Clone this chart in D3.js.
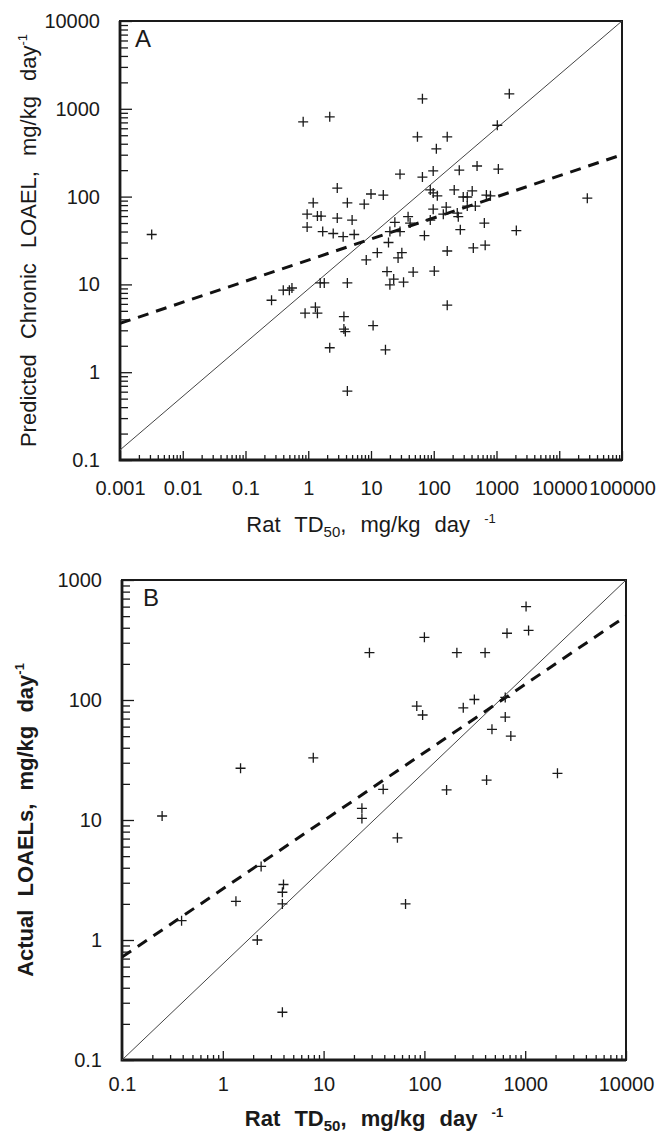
<!DOCTYPE html>
<html>
<head>
<meta charset="utf-8">
<script src="https://cdn.jsdelivr.net/npm/d3@7"></script>
<style>
  body { margin: 0; background: #fff; }
  text { font-family: Arial, "Liberation Sans", sans-serif; fill: #1a1a1a; }
  .frame { fill: none; stroke: #1a1a1a; stroke-width: 2; }
  .axis path { display: none; }
  .axis line { stroke: #1a1a1a; stroke-width: 1.3; }
  .axis text { font-size: 20px; fill: #1a1a1a; }
  .mark { stroke: #1a1a1a; stroke-width: 1.3; }
</style>
</head>
<body>
<svg id="fig" width="659" height="1137"></svg>
<script>
// panel A: rat TD50 vs predicted chronic LOAEL
const pointsA = [
  [0.0032,37],[0.83,710],[2.2,810],[2.9,125],[1.2,85],[4.2,85],[10,107],[15.7,104],[7.8,82],
  [0.96,63],[1.4,60],[1.6,60],[2.9,57],[5.0,54],[0.96,45],[1.7,40],[2.5,38],[3.6,35],[5.4,37],
  [24,51],[19,30],[12.6,23],[8.4,19],[27,20],[31,23],[18,14],[23,11.5],[20,9.9],[33,10.6],
  [0.40,8.6],[0.50,8.6],[0.55,9.1],[0.26,6.6],[1.55,10.4],[1.8,10.4],[4.2,10.4],[0.89,4.7],
  [1.3,5.5],[1.4,4.7],[3.7,4.3],[3.7,3.1],[3.9,2.9],[10.8,3.4],[2.2,1.9],[17,1.8],
  [66,1300],[1600,1480],[1030,650],[55,480],[164,480],[110,350],[29,180],[66,167],[98,196],
  [255,200],[490,223],[1070,206],[88,119],[98,110],[114,102],[212,119],[410,116],[295,99],
  [342,99],[690,104],[800,102],[28000,96],[98,72],[158,76],[88,54],[142,63],[342,78],[460,78],
  [237,65],[246,59],[39,59],[42,50],[20,40],[29,40],[71,36],[265,42],[640,50],[2070,41],
  [164,24],[427,26],[660,28],[47,13.8],[102,14.2],[164,5.8],[4.2,0.61]
];
const solidA = [[0.001,0.13],[100000,10000]];
const dashA = [[0.001,3.6],[100000,300]];
const xTicksA = [0.001,0.01,0.1,1,10,100,1000,10000,100000];
const yTicksA = [0.1,1,10,100,1000,10000];

// panel B: rat TD50 vs actual LOAELs
const pointsB = [
  [28.5,248],[0.25,10.8],[1.5,27],[7.9,33],[39,18],[24,12.5],[24,10.3],[2.4,4.1],[4.0,2.9],
  [3.9,2.5],[3.9,2.0],[1.35,2.1],[0.39,1.45],[2.2,1.0],[3.9,0.25],[1020,600],[1080,380],
  [660,360],[100,333],[210,248],[400,248],[313,101],[634,105],[84,89],[96,75],[243,86],
  [634,72],[468,57],[720,50],[2090,24.5],[414,21.5],[166,17.8],[54,7.1],[65,2.0]
];
const solidB = [[0.1,0.1],[10000,1000]];
const dashB = [[0.1,0.72],[10000,500]];
const xTicksB = [0.1,1,10,100,1000,10000];
const yTicksB = [0.1,1,10,100,1000];

const svg = d3.select("#fig");
const fmt = d => String(d);

function minors(majors) {
  const out = [];
  majors.slice(0, -1).forEach(m => { for (let k = 2; k <= 9; k++) out.push(m * k); });
  return out;
}

function panel(cfg) {
  const x = d3.scaleLog().domain(d3.extent(cfg.xTicks)).range([cfg.left, cfg.right]);
  const y = d3.scaleLog().domain(d3.extent(cfg.yTicks)).range([cfg.bottom, cfg.top]);
  const g = svg.append("g");

  const clipId = "clip" + cfg.name;
  svg.append("clipPath").attr("id", clipId)
    .append("rect").attr("x", cfg.left).attr("y", cfg.top)
    .attr("width", cfg.right - cfg.left).attr("height", cfg.bottom - cfg.top);

  // minor ticks
  g.append("g").attr("class", "axis").attr("transform", `translate(0,${cfg.bottom})`)
    .call(d3.axisBottom(x).tickValues(minors(cfg.xTicks)).tickSize(-5).tickFormat(""));
  g.append("g").attr("class", "axis").attr("transform", `translate(${cfg.left},0)`)
    .call(d3.axisLeft(y).tickValues(minors(cfg.yTicks)).tickSize(-8).tickFormat(""));
  // major ticks + labels
  g.append("g").attr("class", "axis").attr("transform", `translate(0,${cfg.bottom})`)
    .call(d3.axisBottom(x).tickValues(cfg.xTicks).tickSize(-9).tickPadding(cfg.xPad).tickFormat(fmt));
  g.append("g").attr("class", "axis").attr("transform", `translate(${cfg.left},0)`)
    .call(d3.axisLeft(y).tickValues(cfg.yTicks).tickSize(-12).tickPadding(20).tickFormat(fmt));

  // frame
  g.append("rect").attr("class", "frame")
    .attr("x", cfg.left).attr("y", cfg.top)
    .attr("width", cfg.right - cfg.left).attr("height", cfg.bottom - cfg.top);
  g.append("path").attr("d", `M${cfg.left},${cfg.top}V${cfg.bottom}H${cfg.right}`)
    .attr("fill", "none").attr("stroke", "#1a1a1a").attr("stroke-width", 2.8);

  const line = d3.line().x(d => x(d[0])).y(d => y(d[1]));
  g.append("path").datum(cfg.solid).attr("d", line).attr("clip-path", `url(#${clipId})`)
    .attr("fill", "none").attr("stroke", "#444").attr("stroke-width", 1);
  g.append("path").datum(cfg.dash).attr("d", line).attr("clip-path", `url(#${clipId})`)
    .attr("fill", "none").attr("stroke", "#111").attr("stroke-width", 3)
    .attr("stroke-dasharray", "11,8");

  // plus markers
  const r = 5;
  g.selectAll("path.mark").data(cfg.points).enter()
    .append("path").attr("class", "mark")
    .attr("d", d => `M${x(d[0]) - r},${y(d[1])}h${2 * r}M${x(d[0])},${y(d[1]) - r}v${2 * r}`);

  // panel letter
  g.append("text").attr("x", cfg.left + cfg.letterDx).attr("y", cfg.top + 26)
    .style("font-size", "24px").text(cfg.name);

  // x title
  const xt = g.append("text")
    .attr("x", (cfg.left + cfg.right) / 2).attr("y", cfg.xTitleY)
    .attr("text-anchor", "middle")
    .style("font-size", "22px").style("font-weight", cfg.weight).style("word-spacing", "8px");
  xt.append("tspan").text("Rat TD");
  xt.append("tspan").attr("dy", 5).style("font-size", "15px").text("50");
  xt.append("tspan").attr("dy", -5).text(",  mg/kg  day ");
  xt.append("tspan").attr("dy", -9).style("font-size", "13px").text("-1");

  // y title
  const yt = g.append("text")
    .attr("transform", `translate(${cfg.yTitleX},${(cfg.top + cfg.bottom) / 2}) rotate(-90)`)
    .attr("text-anchor", "middle")
    .style("font-size", "22px").style("font-weight", cfg.weight).style("word-spacing", cfg.yWord);
  yt.append("tspan").text(cfg.yTitle);
  yt.append("tspan").attr("dy", -9).style("font-size", "13px").text("-1");
}

panel({
  name: "A", points: pointsA, solid: solidA, dash: dashA, xTicks: xTicksA, yTicks: yTicksA,
  left: 120, right: 622, top: 21, bottom: 460, xPad: 21, letterDx: 15,
  xTitleY: 532, yTitleX: 36, weight: "normal", yWord: "9px",
  yTitle: "Predicted  Chronic  LOAEL,  mg/kg  day"
});
panel({
  name: "B", points: pointsB, solid: solidB, dash: dashB, xTicks: xTicksB, yTicks: yTicksB,
  left: 122, right: 626, top: 580, bottom: 1060, xPad: 17, letterDx: 21,
  xTitleY: 1126, yTitleX: 33, weight: "bold", yWord: "7px",
  yTitle: "Actual  LOAELs,  mg/kg  day"
});
</script>
</body>
</html>
